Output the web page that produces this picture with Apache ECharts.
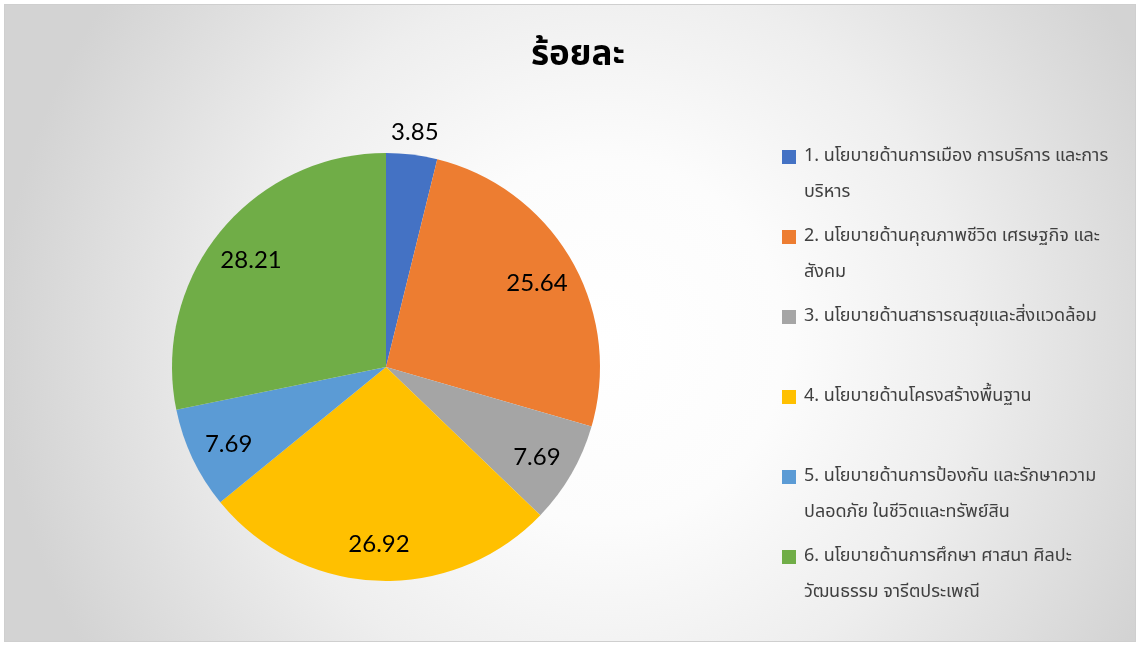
<!DOCTYPE html>
<html>
<head>
<meta charset="utf-8">
<script src="https://cdn.jsdelivr.net/npm/echarts@6/dist/echarts.min.js"></script>
<style>
  html, body { margin: 0; padding: 0; background: #fff; }
  #frame {
    position: absolute; left: 4px; top: 4px;
    width: 1130px; height: 636px;
    border: 1px solid #cfcfcf;
  }
  #chart { width: 1130px; height: 636px; }
</style>
</head>
<body>
<div id="frame"><div id="chart"></div></div>
<script>
// legend lines as they wrap in the original
const categories = [
  ["1. นโยบายด้านการเมือง การบริการ และการ", "บริหาร"],
  ["2. นโยบายด้านคุณภาพชีวิต เศรษฐกิจ และ", "สังคม"],
  ["3. นโยบายด้านสาธารณสุขและสิ่งแวดล้อม"],
  ["4. นโยบายด้านโครงสร้างพื้นฐาน"],
  ["5. นโยบายด้านการป้องกัน และรักษาความ", "ปลอดภัย ในชีวิตและทรัพย์สิน"],
  ["6. นโยบายด้านการศึกษา ศาสนา ศิลปะ", "วัฒนธรรม จารีตประเพณี"],
];
const values = [3.85, 25.64, 7.69, 26.92, 7.69, 28.21];
const colors = ["#4472C4", "#ED7D31", "#A5A5A5", "#FFC000", "#5B9BD5", "#70AD47"];

const names = categories.map((c) => c.join(""));
const thaiFont = "'Noto Sans Thai', 'Noto Sans', 'DejaVu Sans', sans-serif";
const R = 214;
const center = [381, 362];

let chart = echarts.init(document.getElementById("chart"));

// main slices
const pieData = names.map((n, i) => ({
  name: n,
  value: values[i],
  itemStyle: { color: colors[i] },
}));
// transparent ring so inside labels sit at ~0.8 of the radius
const labelData = names.map((n, i) => ({
  name: n,
  value: values[i],
  label: { show: i !== 0 },
}));
// outer ring only for the small first slice
const outerData = names.map((n, i) => ({
  name: n,
  value: values[i],
  label: { show: i === 0 },
}));

const valueLabel = {
  position: "inside",
  formatter: "{c}",
  fontFamily: "Lato, sans-serif",
  fontSize: 24,
  color: "#000",
  offset: [0, 3],
};

chart.setOption({
  backgroundColor: {
    type: "radial",
    x: 0.53,
    y: 0.53,
    r: 0.95,
    colorStops: [
      { offset: 0, color: "#ffffff" },
      { offset: 0.3, color: "#fcfcfc" },
      { offset: 0.6, color: "#eeeeee" },
      { offset: 1, color: "#d3d3d3" },
    ],
  },
  title: {
    text: "ร้อยละ",
    left: 568,
    top: 30,
    textAlign: "center",
    textStyle: {
      fontFamily: thaiFont,
      fontWeight: "bold",
      fontSize: 35,
      color: "#000",
    },
  },
  legend: {
    orient: "vertical",
    left: 772,
    top: 93,
    itemWidth: 14,
    itemHeight: 14,
    itemGap: -28,
    icon: "rect",
    selectedMode: false,
    data: names,
    formatter: (name) => {
      let lines = categories[names.indexOf(name)];
      return "\n" + lines[0] + "\n" + (lines[1] || "");
    },
    textStyle: {
      fontFamily: thaiFont,
      fontSize: 18,
      lineHeight: 36,
      color: "#404040",
      padding: [0, 0, 0, 3],
    },
  },
  series: [
    {
      type: "pie",
      center: center,
      radius: R,
      startAngle: 90,
      clockwise: true,
      label: { show: false },
      labelLine: { show: false },
      emphasis: { scale: false },
      data: pieData,
    },
    {
      type: "pie",
      center: center,
      radius: [R * 0.6, R],
      startAngle: 90,
      silent: true,
      avoidLabelOverlap: false,
      itemStyle: { color: "rgba(0,0,0,0)" },
      label: valueLabel,
      labelLine: { show: false },
      data: labelData,
    },
    {
      type: "pie",
      center: center,
      radius: [R, R + 44],
      startAngle: 90,
      silent: true,
      avoidLabelOverlap: false,
      itemStyle: { color: "rgba(0,0,0,0)" },
      label: valueLabel,
      labelLine: { show: false },
      data: outerData,
    },
  ],
});
</script>
</body>
</html>
